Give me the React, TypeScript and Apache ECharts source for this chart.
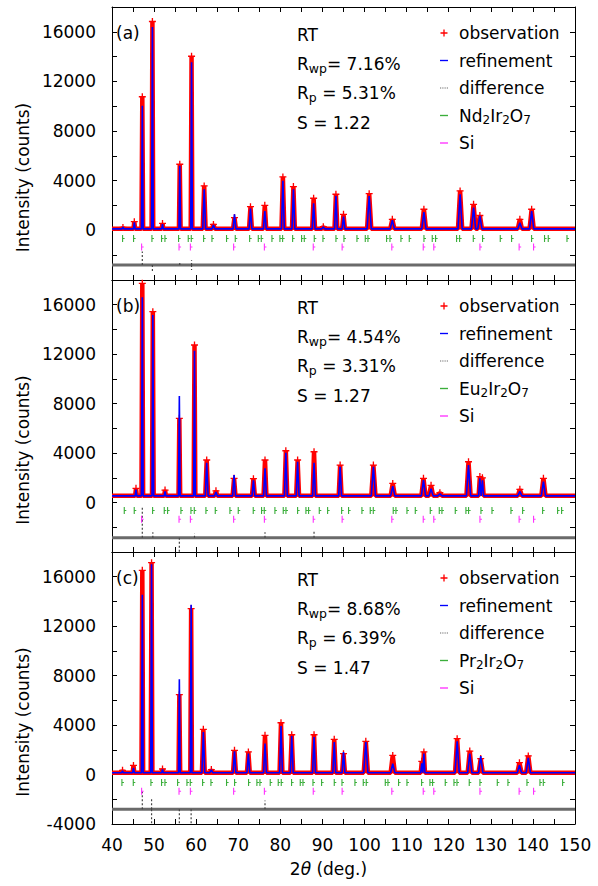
import React, { useEffect, useRef } from "react";
import * as echarts from "echarts";

const X_MIN = 40;
const X_MAX = 150;
const Y_MIN = -4000;
const Y_MAX = 18000;

// ---------- Panel (a) Nd2Ir2O7 ----------
const phaseA = "Nd2Ir2O7";
const statsA = { label: "(a)", rwp: "7.16%", rp: "5.31%", s: "1.22" };
const bgA = 120;
const peakPosA = [42.6, 45.3, 47.2, 49.6, 52.0, 56.1, 58.9, 61.9, 64.1, 69.1, 72.9, 76.3, 80.6, 83.1, 87.9, 90.2, 93.2, 95.0, 101.1, 106.6, 114.1, 122.7, 125.9, 127.4, 136.9, 139.7];
const obsA = [240, 700, 10770, 16830, 560, 5330, 14030, 3580, 480, 1030, 1910, 2020, 4310, 3530, 2590, 300, 2910, 1290, 2960, 890, 1700, 3180, 2100, 1200, 890, 1700];
const calcA = [260, 650, 10040, 16380, 500, 5200, 13550, 3310, 420, 1290, 1750, 1560, 3990, 3310, 2180, 280, 2770, 1100, 2770, 810, 1480, 2910, 1830, 1160, 620, 1560];
const diffBaseA = -2800;
const diffSpikeXA = [47.2, 49.6, 56.1, 58.9, 58.9];
const diffSpikeYA = [-1700, -3400, -2500, -2400, -3200];
const braggPhaseA = [42.69, 45.3, 49.66, 51.95, 52.75, 55.99, 58.29, 59.01, 61.94, 63.92, 67.39, 69.46, 72.87, 74.93, 75.64, 78.17, 80.07, 80.71, 83.09, 85.22, 85.86, 88.23, 90.29, 93.38, 95.28, 98.37, 100.35, 100.98, 105.41, 106.21, 108.82, 110.8, 114.29, 116.26, 117.05, 122.04, 122.76, 126.01, 128.22, 132.42, 135.11, 139.86, 142.94, 143.82, 148.27];

// ---------- Panel (b) Eu2Ir2O7 ----------
const phaseB = "Eu2Ir2O7";
const statsB = { label: "(b)", rwp: "4.54%", rp: "3.31%", s: "1.27" };
const bgB = 540;
const peakPosB = [45.7, 47.2, 49.7, 52.6, 56.0, 59.6, 62.5, 64.7, 69.0, 73.6, 76.35, 81.3, 84.1, 88.0, 94.2, 102.1, 106.7, 114.0, 115.8, 117.9, 124.7, 127.4, 128.0, 136.9, 142.5];
const obsB = [1150, 17730, 15440, 1010, 6810, 12740, 3440, 950, 1960, 1930, 3440, 4190, 3440, 4110, 3030, 3030, 1550, 1960, 1390, 800, 3300, 2100, 2000, 1070, 1960];
const calcB = [1050, 16600, 15170, 900, 8620, 12280, 3220, 850, 2230, 1790, 2770, 4030, 3300, 3220, 2900, 2900, 1330, 1820, 1120, 700, 3030, 1960, 1800, 900, 1690];
const diffBaseB = -2850;
const diffSpikeXB = [47.2, 49.7, 56.0, 59.6, 76.35, 88.0];
const diffSpikeYB = [-300, -2400, -4000, -2500, -2400, -2300];
const braggPhaseB = [43.09, 45.46, 49.82, 52.59, 53.38, 56.55, 58.93, 59.72, 62.49, 64.71, 68.19, 70.17, 73.73, 75.71, 76.35, 78.88, 80.86, 81.5, 84.27, 86.25, 86.88, 89.42, 91.4, 94.73, 96.38, 99.55, 101.53, 102.25, 106.99, 107.63, 110.25, 112.23, 115.79, 117.93, 118.56, 121.73, 124.26, 124.89, 127.83, 130.45, 134.96, 137.73, 142.48, 146.04, 146.99];

// ---------- Panel (c) Pr2Ir2O7 ----------
const phaseC = "Pr2Ir2O7";
const statsC = { label: "(c)", rwp: "8.68%", rp: "6.39%", s: "1.47" };
const bgC = 150;
const peakPosC = [42.5, 45.1, 47.2, 49.4, 52.0, 56.0, 58.8, 61.7, 63.6, 69.1, 72.4, 76.35, 80.15, 82.7, 88.0, 92.8, 95.0, 100.3, 106.7, 113.6, 114.1, 122.0, 125.0, 127.6, 136.8, 138.9];
const obsC = [340, 740, 16520, 17140, 450, 6460, 13420, 3660, 400, 1960, 1830, 3170, 4190, 3220, 3220, 2850, 1690, 2690, 1550, 1070, 1830, 2900, 1900, 1290, 960, 1510];
const calcC = [300, 530, 14550, 17000, 420, 7700, 13740, 3440, 380, 1870, 1690, 2500, 3930, 3110, 3030, 2630, 1820, 2630, 880, 900, 1690, 2690, 1690, 1500, 750, 1350];
const diffBaseC = -2800;
const diffSpikeXC = [47.2, 49.4, 49.4, 56.0, 58.8, 76.35];
const diffSpikeYC = [-1400, -1900, -4000, -4000, -4000, -2100];
const braggPhaseC = [42.53, 45.23, 49.42, 51.95, 52.75, 55.76, 57.98, 58.77, 61.7, 63.68, 67.39, 69.3, 72.62, 74.6, 75.32, 77.77, 79.67, 80.39, 82.84, 84.9, 85.54, 87.92, 89.97, 92.98, 94.81, 97.89, 99.87, 100.58, 105.1, 105.73, 108.26, 110.25, 113.73, 115.71, 116.34, 119.35, 121.42, 122.13, 125.05, 127.59, 131.71, 134.24, 138.76, 141.85, 142.64, 147.23];

// Si reference reflections (same in all panels)
const braggSi = [47.21, 56.1, 58.8, 69.07, 76.38, 87.99, 94.85, 106.65, 114.12, 116.62, 127.59, 136.9, 140.33];
const braggPhaseLevel = -650;
const braggSiLevel = -1350;

const panels = [
  { phase: phaseA, stats: statsA, bg: bgA, pos: peakPosA, obs: obsA, calc: calcA, diffBase: diffBaseA, spikeX: diffSpikeXA, spikeY: diffSpikeYA, bragg: braggPhaseA },
  { phase: phaseB, stats: statsB, bg: bgB, pos: peakPosB, obs: obsB, calc: calcB, diffBase: diffBaseB, spikeX: diffSpikeXB, spikeY: diffSpikeYB, bragg: braggPhaseB },
  { phase: phaseC, stats: statsC, bg: bgC, pos: peakPosC, obs: obsC, calc: calcC, diffBase: diffBaseC, spikeX: diffSpikeXC, spikeY: diffSpikeYC, bragg: braggPhaseC },
];

const FONT = "DejaVu Sans";
const FS = 17;
const RED = "#ff0000";
const BLUE = "#0000ff";
const GRAY = "#6a6a6a";
const GREEN = "#0a9a0a";
const MAGENTA = "#ff00ff";

const GRID_LEFT = 112;
const GRID_RIGHT = 23;
const PANEL_TOP = [7, 280, 552];
const PANEL_H = [273, 272, 272];

const PLUS_ICON = "path://M3,0h1.4v3h3v1.4h-3v3h-1.4v-3h-3v-1.4h3z";
const LINE_ICON = "path://M0,0h10v1.7h-10z";
const DOT_ICON = "path://M0,0h1.6v1.6h-1.6z M3,0h1.6v1.6h-1.6z M6,0h1.6v1.6h-1.6z M9,0h1.6v1.6h-1.6z";
const TICK_SYMBOL = "path://M0,0h1.2v3h1.6v1h-1.6v3h-1.2z";

function halfWidth(p: number, i: number, arr: number[]) {
  const base = p < 60 ? 0.2 : p < 100 ? 0.34 : 0.5;
  const prev = i > 0 ? p - arr[i - 1] : Infinity;
  const next = i < arr.length - 1 ? arr[i + 1] - p : Infinity;
  return Math.min(base, prev / 2, next / 2);
}

function profile(pos: number[], h: number[], bg: number) {
  const pts: any[] = [{ value: [X_MIN, bg], symbol: "none" }];
  pos.forEach((p, i) => {
    const hw = halfWidth(p, i, pos);
    pts.push({ value: [p - hw, bg], symbol: "none" });
    pts.push({ value: [p, h[i]] });
    pts.push({ value: [p + hw, bg], symbol: "none" });
  });
  pts.push({ value: [X_MAX, bg], symbol: "none" });
  return pts;
}

function spikeSegments(base: number, xs: number[], ys: number[]) {
  const pts: any[] = [];
  xs.forEach((x, i) => {
    pts.push([x, base], [x, ys[i]], [x, "-"]);
  });
  return pts;
}

function richName(name: string) {
  if (!/\d/.test(name)) return name;
  return name
    .split(/(\d)/)
    .filter(Boolean)
    .map((t) => (/\d/.test(t) ? `{s|${t}}` : `{n|${t}}`))
    .join("");
}

function buildOption() {
  const grid: any[] = [];
  const xAxis: any[] = [];
  const yAxis: any[] = [];
  const series: any[] = [];
  const legend: any[] = [];
  const graphic: any[] = [];

  const axisLine = { show: true, onZero: false, lineStyle: { color: "#000", width: 1 } };
  const axisTick = { show: true, inside: true, length: 5, lineStyle: { color: "#000", width: 1 } };

  panels.forEach((pn, k) => {
    const top = PANEL_TOP[k];
    const isLast = k === panels.length - 1;
    grid.push({ left: GRID_LEFT, right: GRID_RIGHT, top, height: PANEL_H[k], show: false });

    const xBase = { gridIndex: k, type: "value", min: X_MIN, max: X_MAX, interval: 5, splitLine: { show: false }, axisLine, axisTick };
    xAxis.push({
      ...xBase,
      position: "bottom",
      axisLabel: {
        show: isLast,
        margin: 12,
        fontFamily: FONT,
        fontSize: FS,
        color: "#000",
        formatter: (v: number) => (v % 10 === 0 ? String(v) : ""),
      },
      name: isLast ? "2{i|θ} (deg.)" : "",
      nameLocation: "middle",
      nameGap: 36,
      nameTextStyle: {
        fontFamily: FONT,
        fontSize: FS,
        color: "#000",
        padding: [0, 30, 0, 0],
        rich: { i: { fontFamily: FONT, fontSize: FS, fontStyle: "italic", color: "#000" } },
      },
    });
    xAxis.push({ ...xBase, position: "top", axisLabel: { show: false } });

    const yBase = { gridIndex: k, type: "value", min: Y_MIN, max: Y_MAX, interval: 2000, splitLine: { show: false }, axisLine, axisTick };
    yAxis.push({
      ...yBase,
      position: "left",
      axisLabel: {
        margin: 16,
        fontFamily: FONT,
        fontSize: FS,
        color: "#000",
        formatter: (v: number) => {
          if (v % 4000 !== 0) return "";
          if (v > 16000) return "";
          if (v < 0 && !isLast) return "";
          return String(v);
        },
      },
      name: "Intensity (counts)",
      nameLocation: "middle",
      nameGap: 77,
      nameTextStyle: { fontFamily: FONT, fontSize: FS, color: "#000", padding: [0, 68, 0, 0] },
    });
    yAxis.push({ ...yBase, position: "right", axisLabel: { show: false } });

    const xi = 2 * k;
    const yi = 2 * k;

    series.push({
      name: "observation",
      type: "line",
      xAxisIndex: xi,
      yAxisIndex: yi,
      data: profile(pn.pos, pn.obs, pn.bg),
      color: RED,
      lineStyle: { color: RED, width: 4.5 },
      symbol: PLUS_ICON,
      symbolSize: 7,
      showSymbol: true,
      itemStyle: { color: RED },
      z: 2,
      silent: true,
    });
    series.push({
      name: "refinement",
      type: "line",
      xAxisIndex: xi,
      yAxisIndex: yi,
      data: profile(pn.pos, pn.calc, pn.bg).map((d) => d.value),
      color: BLUE,
      lineStyle: { color: BLUE, width: 1.6 },
      showSymbol: false,
      symbol: "none",
      z: 4,
      silent: true,
    });
    series.push({
      name: "difference",
      type: "line",
      xAxisIndex: xi,
      yAxisIndex: yi,
      data: [
        [X_MIN, pn.diffBase],
        [X_MAX, pn.diffBase],
      ],
      color: GRAY,
      lineStyle: { color: GRAY, width: 3 },
      showSymbol: false,
      symbol: "none",
      z: 3,
      silent: true,
    });
    series.push({
      name: "difference",
      type: "line",
      xAxisIndex: xi,
      yAxisIndex: yi,
      data: spikeSegments(pn.diffBase, pn.spikeX, pn.spikeY),
      connectNulls: false,
      color: GRAY,
      lineStyle: { color: "#444444", width: 1.2, type: [2, 2] },
      showSymbol: false,
      symbol: "none",
      z: 3,
      silent: true,
    });
    series.push({
      name: pn.phase,
      type: "scatter",
      xAxisIndex: xi,
      yAxisIndex: yi,
      data: pn.bragg.map((x) => [x, braggPhaseLevel]),
      symbol: TICK_SYMBOL,
      symbolSize: [2.6, 7],
      color: GREEN,
      itemStyle: { color: GREEN },
      z: 3,
      silent: true,
    });
    series.push({
      name: "Si",
      type: "scatter",
      xAxisIndex: xi,
      yAxisIndex: yi,
      data: braggSi.map((x) => [x, braggSiLevel]),
      symbol: TICK_SYMBOL,
      symbolSize: [2.6, 7],
      color: MAGENTA,
      itemStyle: { color: MAGENTA },
      z: 3,
      silent: true,
    });

    legend.push({
      orient: "vertical",
      left: 440,
      top: top + 15.5,
      padding: 0,
      itemGap: 6.5,
      itemWidth: 8,
      itemHeight: 7,
      selectedMode: false,
      data: [
        { name: "observation", icon: PLUS_ICON, itemStyle: { color: RED } },
        { name: "refinement", icon: LINE_ICON, itemStyle: { color: BLUE } },
        { name: "difference", icon: DOT_ICON, itemStyle: { color: GRAY } },
        { name: pn.phase, icon: LINE_ICON, itemStyle: { color: GREEN } },
        { name: "Si", icon: LINE_ICON, itemStyle: { color: MAGENTA } },
      ],
      formatter: (name: string) => richName(name),
      textStyle: {
        fontFamily: FONT,
        fontSize: FS,
        color: "#000",
        lineHeight: 21,
        padding: [0, 0, 0, 6],
        rich: {
          n: { fontFamily: FONT, fontSize: FS, color: "#000", lineHeight: 21 },
          s: { fontFamily: FONT, fontSize: 12, color: "#000", lineHeight: 11, verticalAlign: "bottom" },
        },
      },
    });

    const rich = {
      n: { fontFamily: FONT, fontSize: FS, fill: "#000", lineHeight: 22 },
      s: { fontFamily: FONT, fontSize: 12.5, fill: "#000", lineHeight: 12, verticalAlign: "bottom" },
    };
    graphic.push({
      type: "text",
      x: 116,
      y: top + 26,
      silent: true,
      style: { text: pn.stats.label, fontFamily: FONT, fontSize: FS, fill: "#000", align: "left", verticalAlign: "middle" },
    });
    graphic.push({
      type: "text",
      x: 297,
      y: top + 28,
      silent: true,
      style: { text: "RT", fontFamily: FONT, fontSize: FS, fill: "#000", align: "left", verticalAlign: "middle" },
    });
    graphic.push({
      type: "text",
      x: 297,
      y: top + 57,
      silent: true,
      style: { text: `{n|R}{s|wp}{n|= ${pn.stats.rwp}}`, rich, align: "left", verticalAlign: "middle" },
    });
    graphic.push({
      type: "text",
      x: 297,
      y: top + 86,
      silent: true,
      style: { text: `{n|R}{s|p}{n| = ${pn.stats.rp}}`, rich, align: "left", verticalAlign: "middle" },
    });
    graphic.push({
      type: "text",
      x: 297,
      y: top + 116,
      silent: true,
      style: { text: `S = ${pn.stats.s}`, fontFamily: FONT, fontSize: FS, fill: "#000", align: "left", verticalAlign: "middle" },
    });
  });

  return {
    animation: false,
    backgroundColor: "#ffffff",
    textStyle: { fontFamily: FONT },
    grid,
    xAxis,
    yAxis,
    series,
    legend,
    graphic,
  };
}

export default function App() {
  const ref = useRef<HTMLDivElement>(null);
  useEffect(() => {
    if (!ref.current) return;
    const chart = echarts.init(ref.current, undefined, { renderer: "svg" });
    chart.setOption(buildOption() as any);
    return () => chart.dispose();
  }, []);
  return (
    <div
      ref={ref}
      style={{ position: "fixed", left: 0, top: 0, width: 598, height: 886, background: "#fff" }}
    />
  );
}
